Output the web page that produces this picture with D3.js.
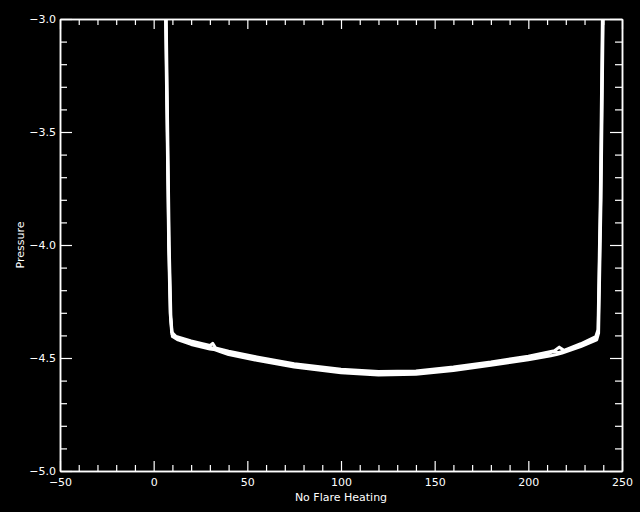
<!DOCTYPE html>
<html>
<head>
<meta charset="utf-8">
<script src="https://cdn.jsdelivr.net/npm/d3@7"></script>
<style>
  html, body { margin: 0; padding: 0; background: #000; }
  svg { display: block; }
  text { fill: #fff; font-family: "DejaVu Sans", sans-serif; font-size: 11px; }
</style>
</head>
<body>
<script>
// several loop-averaged pressure profiles, overlapping into one thick band
var heatA = [6.0, 7.2, 8.0, 8.8, 9.6, 12, 20, 30, 31.5, 33, 40, 55, 75, 100, 120, 140, 160, 180, 200, 214, 216.5, 219, 228, 236, 237.2, 238.4, 239.8];
var presA = [-2.8, -3.5, -4.0, -4.3, -4.385, -4.405, -4.425, -4.445, -4.435, -4.455, -4.47, -4.495, -4.525, -4.55, -4.56, -4.557, -4.54, -4.518, -4.492, -4.468, -4.452, -4.466, -4.437, -4.405, -4.375, -3.8, -2.8];

var heatB = [6.4, 7.5, 8.3, 9.2, 10.0, 13, 20, 30, 32, 35, 40, 55, 75, 100, 120, 140, 160, 180, 200, 212, 215, 218, 228, 236.5, 237.5, 238.8, 240.2];
var presB = [-2.8, -3.5, -4.0, -4.32, -4.405, -4.42, -4.44, -4.46, -4.462, -4.47, -4.485, -4.51, -4.54, -4.565, -4.575, -4.572, -4.555, -4.532, -4.508, -4.49, -4.485, -4.478, -4.45, -4.42, -4.39, -3.8, -2.8];

var heatC = [6.2, 7.3, 8.1, 9.0, 9.8, 12, 20, 28, 30, 40, 55, 75, 100, 120, 140, 160, 180, 200, 210, 213, 216, 228, 236.2, 237.3, 238.6, 240.0];
var presC = [-2.8, -3.5, -4.0, -4.31, -4.395, -4.412, -4.432, -4.448, -4.452, -4.478, -4.503, -4.533, -4.558, -4.568, -4.565, -4.548, -4.526, -4.5, -4.484, -4.472, -4.476, -4.444, -4.412, -4.382, -3.8, -2.8];

var xTicks = [-50, 0, 50, 100, 150, 200, 250];
var yTicks = [-5.0, -4.5, -4.0, -3.5, -3.0];

var width = 640, height = 512;
var margin = {left: 60, right: 18, top: 19, bottom: 41};

var svg = d3.select("body").append("svg")
    .attr("width", width)
    .attr("height", height);

svg.append("rect").attr("width", width).attr("height", height).attr("fill", "#000");

var x = d3.scaleLinear().domain([-50, 250]).range([margin.left, width - margin.right]);
var y = d3.scaleLinear().domain([-5.0, -3.0]).range([height - margin.bottom, margin.top]);

var fmtY = function(d){ return d3.format(".1f")(d); };

//clip for the curves
svg.append("clipPath").attr("id", "plotclip")
    .append("rect")
    .attr("x", margin.left).attr("y", margin.top)
    .attr("width", x.range()[1] - x.range()[0])
    .attr("height", y.range()[0] - y.range()[1]);

var line = d3.line().x(function(d){ return x(d[0]); }).y(function(d){ return y(d[1]); });

var series = [d3.zip(heatA, presA), d3.zip(heatB, presB), d3.zip(heatC, presC)];

svg.append("g").attr("clip-path", "url(#plotclip)")
    .selectAll("path")
    .data(series)
    .enter()
    .append("path")
    .attr("d", line)
    .attr("fill", "none")
    .attr("stroke", "#fff")
    .attr("stroke-width", 3)
    .attr("stroke-linejoin", "round");

//axes: ticks inward on all four sides
var xMinor = d3.range(-50, 251, 10).filter(function(v){ return v % 50 !== 0; });
var yMinor = d3.range(-50, -29, 1).map(function(v){ return v / 10; }).filter(function(v){ return Math.round(v * 10) % 5 !== 0; });

var bottom = svg.append("g").attr("transform", "translate(0," + y.range()[0] + ")")
    .call(d3.axisBottom(x).tickValues(xTicks).tickSizeInner(-10).tickSizeOuter(0).tickPadding(7).tickFormat(d3.format("d")));
var bottomMinor = svg.append("g").attr("transform", "translate(0," + y.range()[0] + ")")
    .call(d3.axisBottom(x).tickValues(xMinor).tickSizeInner(-6).tickSizeOuter(0).tickFormat(""));
var top = svg.append("g").attr("transform", "translate(0," + y.range()[1] + ")")
    .call(d3.axisTop(x).tickValues(xTicks).tickSizeInner(-10).tickSizeOuter(0).tickFormat(""));
var topMinor = svg.append("g").attr("transform", "translate(0," + y.range()[1] + ")")
    .call(d3.axisTop(x).tickValues(xMinor).tickSizeInner(-6).tickSizeOuter(0).tickFormat(""));

var left = svg.append("g").attr("transform", "translate(" + x.range()[0] + ",0)")
    .call(d3.axisLeft(y).tickValues(yTicks).tickSizeInner(-12).tickSizeOuter(0).tickPadding(4).tickFormat(fmtY));
var leftMinor = svg.append("g").attr("transform", "translate(" + x.range()[0] + ",0)")
    .call(d3.axisLeft(y).tickValues(yMinor).tickSizeInner(-7).tickSizeOuter(0).tickFormat(""));
var right = svg.append("g").attr("transform", "translate(" + x.range()[1] + ",0)")
    .call(d3.axisRight(y).tickValues(yTicks).tickSizeInner(-12).tickSizeOuter(0).tickFormat(""));
var rightMinor = svg.append("g").attr("transform", "translate(" + x.range()[1] + ",0)")
    .call(d3.axisRight(y).tickValues(yMinor).tickSizeInner(-7).tickSizeOuter(0).tickFormat(""));

svg.selectAll(".domain").attr("stroke", "#fff").attr("stroke-width", 1.5);
svg.selectAll(".tick line").attr("stroke", "#fff").attr("stroke-width", 1.2);
svg.selectAll(".tick text").attr("fill", "#fff").attr("font-size", 11).attr("font-family", "DejaVu Sans, sans-serif");

left.selectAll(".tick text").attr("dy", "0.35em");

svg.append("text")
    .attr("x", (x.range()[0] + x.range()[1]) / 2)
    .attr("y", 501)
    .attr("text-anchor", "middle")
    .text("No Flare Heating");

svg.append("text")
    .attr("transform", "translate(24," + (y(-4.0)) + ") rotate(-90)")
    .attr("text-anchor", "middle")
    .text("Pressure");
</script>
</body>
</html>
